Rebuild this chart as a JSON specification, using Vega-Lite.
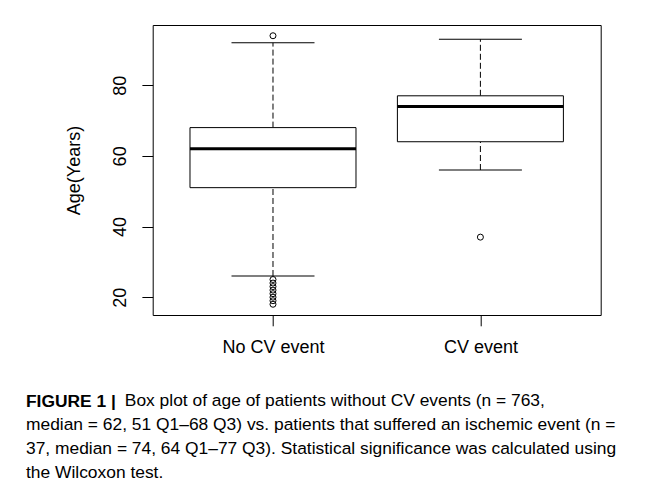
{
  "$schema": "https://vega.github.io/schema/vega-lite/v6.json",
  "width": 448,
  "height": 290,
  "autosize": {"type": "none"},
  "padding": {"left": 152.7, "top": 25, "right": 51.3, "bottom": 175},
  "background": "white",
  "datasets": {
    "boxes": [
      {"group": "No CV event", "lower": 26, "q1": 51, "median": 62, "q3": 68, "upper": 92},
      {"group": "CV event", "lower": 56, "q1": 64, "median": 74, "q3": 77, "upper": 93}
    ],
    "outliers": [
      {"group": "No CV event", "age": 94},
      {"group": "No CV event", "age": 25},
      {"group": "No CV event", "age": 24},
      {"group": "No CV event", "age": 23},
      {"group": "No CV event", "age": 22},
      {"group": "No CV event", "age": 21},
      {"group": "No CV event", "age": 20},
      {"group": "No CV event", "age": 19},
      {"group": "No CV event", "age": 18},
      {"group": "CV event", "age": 37}
    ]
  },
  "title": {
    "text": "FIGURE 1 |",
    "subtitle": [
      "median = 62, 51 Q1–68 Q3) vs. patients that suffered an ischemic event (n =",
      "37, median = 74, 64 Q1–77 Q3). Statistical significance was calculated using",
      "the Wilcoxon test."
    ],
    "orient": "bottom",
    "anchor": "start",
    "frame": "group",
    "dx": -126.7,
    "offset": -15,
    "font": "Liberation Sans",
    "fontSize": 17.4,
    "fontWeight": "bold",
    "color": "black",
    "subtitleFont": "Liberation Sans",
    "subtitleFontSize": 17.4,
    "subtitleFontWeight": "normal",
    "subtitleColor": "black",
    "subtitleLineHeight": 24,
    "subtitlePadding": 5
  },
  "config": {
    "view": {"stroke": "black", "strokeWidth": 1},
    "axis": {
      "domain": false,
      "grid": false,
      "tickColor": "black",
      "tickSize": 10.8,
      "labelColor": "black",
      "labelFont": "Liberation Sans",
      "labelFontSize": 18,
      "titleColor": "black",
      "titleFont": "Liberation Sans",
      "titleFontWeight": "normal"
    }
  },
  "layer": [
    {
      "data": {"name": "boxes"},
      "mark": {"type": "rule", "color": "black", "strokeWidth": 1, "strokeDash": [6, 3]},
      "encoding": {
        "x": {
          "field": "group", "type": "nominal",
          "scale": {"type": "point", "padding": 0.58, "domain": ["No CV event", "CV event"]},
          "axis": {
            "labelAngle": 0,
            "labelBaseline": "alphabetic",
            "labelPadding": 26.9,
            "title": "Box plot of age of patients without CV events (n = 763,",
            "titleFontSize": 17.4,
            "titleX": -28.4,
            "titleY": 90,
            "titleAlign": "left",
            "titleAnchor": null,
            "titleBaseline": "alphabetic"
          }
        },
        "y": {
          "field": "q3", "type": "quantitative",
          "scale": {"domain": [14.96, 97.04], "nice": false, "zero": false},
          "axis": {
            "values": [20, 40, 60, 80],
            "labelAngle": 270,
            "labelAlign": "center",
            "labelBaseline": "alphabetic",
            "labelPadding": 16.9,
            "title": "Age(Years)",
            "titleFontSize": 18,
            "titleAngle": 270,
            "titleAlign": "center",
            "titleBaseline": "alphabetic",
            "titleX": -73.2,
            "titleY": 145
          }
        },
        "y2": {"field": "upper"}
      }
    },
    {
      "data": {"name": "boxes"},
      "mark": {"type": "rule", "color": "black", "strokeWidth": 1, "strokeDash": [6, 3]},
      "encoding": {
        "x": {"field": "group", "type": "nominal"},
        "y": {"field": "lower", "type": "quantitative", "title": "Age(Years)"},
        "y2": {"field": "q1"}
      }
    },
    {
      "data": {"name": "boxes"},
      "mark": {"type": "bar", "fill": "white", "stroke": "black", "strokeWidth": 1, "size": 166},
      "encoding": {
        "x": {"field": "group", "type": "nominal"},
        "y": {"field": "q1", "type": "quantitative", "title": "Age(Years)"},
        "y2": {"field": "q3"}
      }
    },
    {
      "data": {"name": "boxes"},
      "mark": {"type": "tick", "color": "black", "size": 166, "thickness": 3, "opacity": 1},
      "encoding": {
        "x": {"field": "group", "type": "nominal"},
        "y": {"field": "median", "type": "quantitative", "title": "Age(Years)"}
      }
    },
    {
      "data": {"name": "boxes"},
      "mark": {"type": "tick", "color": "black", "size": 83, "thickness": 1, "opacity": 1},
      "encoding": {
        "x": {"field": "group", "type": "nominal"},
        "y": {"field": "upper", "type": "quantitative", "title": "Age(Years)"}
      }
    },
    {
      "data": {"name": "boxes"},
      "mark": {"type": "tick", "color": "black", "size": 83, "thickness": 1, "opacity": 1},
      "encoding": {
        "x": {"field": "group", "type": "nominal"},
        "y": {"field": "lower", "type": "quantitative", "title": "Age(Years)"}
      }
    },
    {
      "data": {"name": "outliers"},
      "mark": {"type": "point", "shape": "circle", "filled": false, "color": "black", "strokeWidth": 1, "size": 36, "opacity": 1},
      "encoding": {
        "x": {"field": "group", "type": "nominal"},
        "y": {"field": "age", "type": "quantitative", "title": "Age(Years)"}
      }
    }
  ]
}
